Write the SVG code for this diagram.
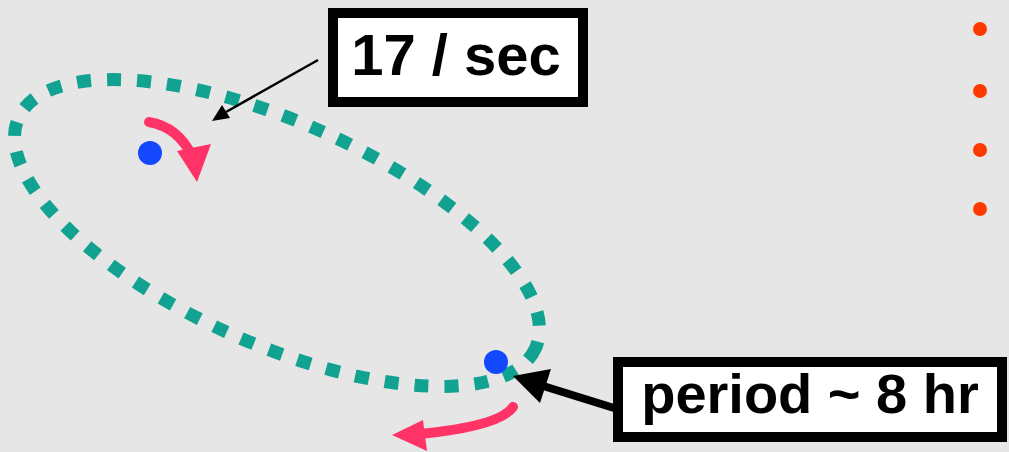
<svg xmlns="http://www.w3.org/2000/svg" width="1009" height="452" viewBox="0 0 1009 452">
<style>
.lbl{font-family:"Liberation Sans",Arial,sans-serif;font-weight:bold;font-size:56px;fill:#000;text-anchor:middle}
.box{fill:#fff;stroke:#000;stroke-width:10}
.orbit{fill:none;stroke:#12a292;stroke-width:13;stroke-dasharray:14 16}
.star{fill:#1448ff}
.spin{fill:none;stroke:#ff3366;stroke-linecap:round}
.spinhead{fill:#ff3366}
.dot{fill:#ff3a00}
</style>
<rect width="1009" height="452" fill="#e6e6e6"/>
<g id="orbit">
<ellipse class="orbit" cx="277" cy="233" rx="283" ry="111" transform="rotate(24 277 233)"/>
</g>
<g id="star1">
<circle class="star" cx="150" cy="153" r="12"/>
<path class="spin" d="M149,122 Q178,127 192,156" stroke-width="10"/>
<polygon class="spinhead" points="177,151 211,144 197,182"/>
</g>
<g id="star2">
<circle class="star" cx="496" cy="362" r="12"/>
<path class="spin" d="M513,407 Q500,426 420,434" stroke-width="10"/>
<polygon class="spinhead" points="392,435 423,420 427,451"/>
</g>
<g id="dots">
<circle class="dot" cx="980" cy="29" r="7"/>
<circle class="dot" cx="980" cy="91" r="7"/>
<circle class="dot" cx="980" cy="150" r="7"/>
<circle class="dot" cx="980" cy="209" r="7"/>
</g>
<g id="connectors">
<line x1="318" y1="60" x2="226" y2="112" stroke="#000" stroke-width="2.5"/>
<polygon points="212,121 230,118 222,105" fill="#000"/>
<line x1="614" y1="408" x2="540" y2="385" stroke="#000" stroke-width="8"/>
<polygon points="513,376 551,369 540,403" fill="#000"/>
</g>
<g id="label-rate">
<rect class="box" x="333" y="13" width="250" height="89"/>
<text class="lbl" x="456" y="75" style="font-size:58px">17 / sec</text>
</g>
<g id="label-period">
<rect class="box" x="618" y="362" width="384" height="75"/>
<text class="lbl" x="810" y="413">period ~ 8 hr</text>
</g>
</svg>
